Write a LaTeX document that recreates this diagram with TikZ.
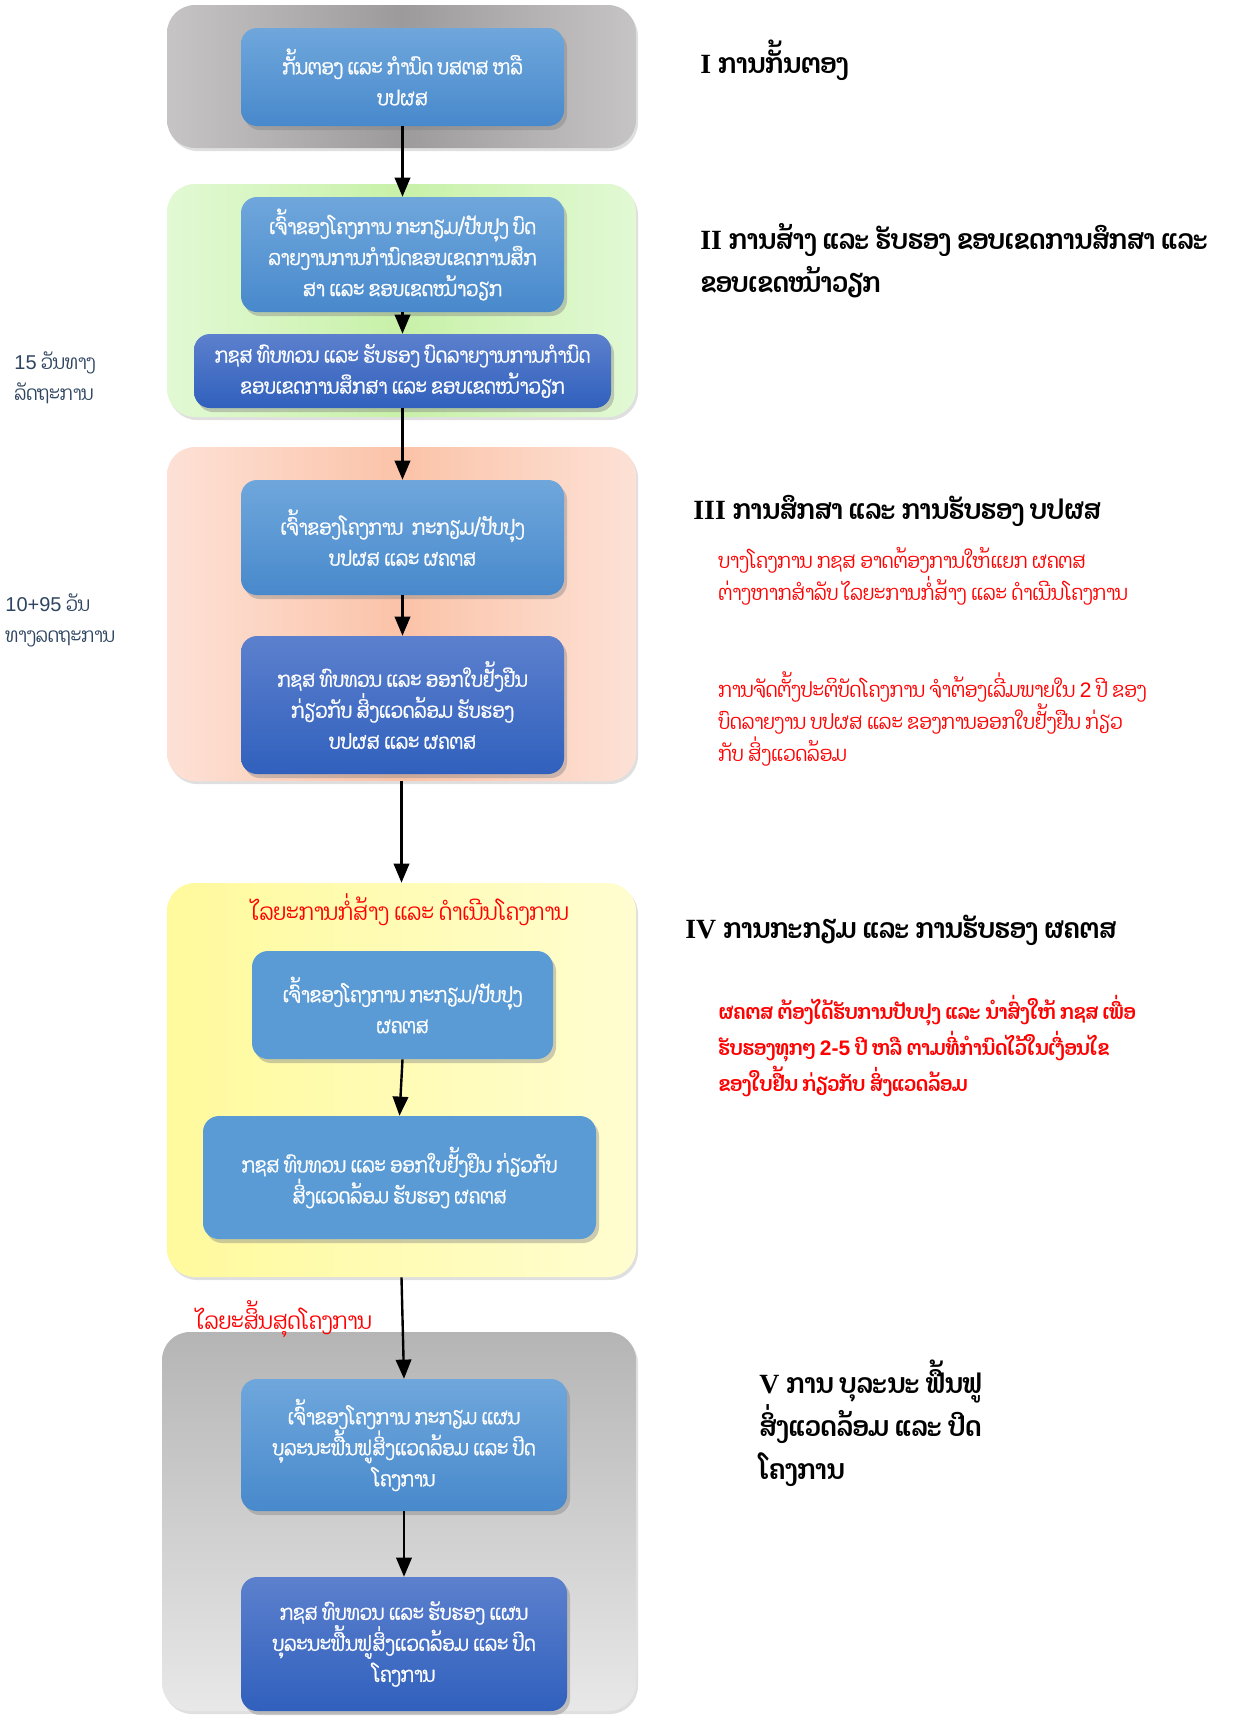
\documentclass[tikz,border=0pt]{standalone}
\usepackage{fontspec}
\setmainfont{Liberation Serif}
\setsansfont{Liberation Sans}
\newfontfamily\laofont[Script=Lao, FakeStretch=0.87]{Dhyana}
\newfontfamily\laobox[Script=Lao, FakeStretch=0.85, FakeBold=1]{Dhyana}
\usepackage{tikz}
\usetikzlibrary{shadows,arrows}

\definecolor{boxtop}{HTML}{6FA7DC}
\definecolor{boxbottom}{HTML}{4889CC}
\definecolor{deeptop}{HTML}{5C80CD}
\definecolor{deepbottom}{HTML}{3060BD}
\definecolor{flatblue}{HTML}{5B9BD5}
\definecolor{greenedge}{HTML}{E2F9D4}
\definecolor{greenmid}{HTML}{C8F1A8}
\definecolor{salmonedge}{HTML}{FDE1D6}
\definecolor{salmonmid}{HTML}{FBC3A8}
\definecolor{yellowleft}{HTML}{FFFA9C}
\definecolor{yellowright}{HTML}{FFFDD0}
\definecolor{grayedge}{HTML}{C6C4C4}
\definecolor{graymid}{HTML}{9C9A9A}
\definecolor{daysblue}{HTML}{2E4460}

\begin{document}
\begin{tikzpicture}[x=0.5pt, y=-0.5pt,
    panel/.style={rectangle, rounded corners=14pt, minimum width=234.5pt,
        drop shadow={shadow xshift=1pt, shadow yshift=-1.5pt, opacity=0.25}},
    stepbox/.style={rectangle, rounded corners=8pt, text=white, align=center,
        font=\fontsize{10.5}{15.5}\selectfont\laobox,
        drop shadow={shadow xshift=1.5pt, shadow yshift=-2pt, opacity=0.4}},
    lightbox/.style={stepbox, top color=boxtop, bottom color=boxbottom},
    deepbox/.style={stepbox, top color=deeptop, bottom color=deepbottom},
    flatbox/.style={stepbox, fill=flatblue},
    title/.style={anchor=west, align=left, inner sep=0pt, font=\fontsize{13.9}{21.5}\selectfont},
    note/.style={anchor=west, align=left, inner sep=0pt, text=red, font=\fontsize{10.5}{16}\selectfont\laofont},
    phase/.style={text=red, font=\fontsize{11.7}{16}\selectfont\laofont},
    days/.style={anchor=west, align=left, inner sep=0pt, text=daysblue, font=\fontsize{10}{15.5}\selectfont\laofont},
    flow/.style={->, >=triangle 45, line width=1.2pt}]
    \useasboundingbox (0,0) rectangle (1239,1720);

    % stage panels
    \node (PanelI) [panel, minimum height=71.5pt, left color=grayedge, right color=grayedge, middle color=graymid] at (401.5,76.5) {};
    \node (PanelII) [panel, minimum height=116.5pt, left color=greenedge, right color=greenedge, middle color=greenmid] at (401.5,300.5) {};
    \node (PanelIII) [panel, minimum height=167pt, left color=salmonedge, right color=salmonedge, middle color=salmonmid] at (401.5,614) {};
    \node (PanelIV) [panel, minimum height=197pt, left color=yellowleft, right color=yellowright] at (401.5,1080) {};
    \node (PanelV) [panel, minimum width=237pt, minimum height=189.5pt, top color=gray!58, bottom color=gray!18] at (399,1521.5) {};

    % steps
    \node (Screening) [lightbox, minimum width=161.5pt, minimum height=49pt] at (402.5,77)
    {
        ກັ້ນຕອງ ແລະ ກຳນົດ ບສຕສ ຫລື \\
        ບປຜສ
    };
    \node (ScopeDraft) [lightbox, minimum width=161.5pt, minimum height=57.5pt] at (402.5,254.5)
    {
        ເຈົ້າຂອງໂຄງການ ກະກຽມ/ປັບປຸງ ບົດ \\
        ລາຍງານການກຳນົດຂອບເຂດການສຶກ \\
        ສາ ແລະ ຂອບເຂດໜ້າວຽກ
    };
    \node (ScopeReview) [deepbox, minimum width=208.5pt, minimum height=37pt] at (402.5,371)
    {
        ກຊສ ທົບທວນ ແລະ ຮັບຮອງ ບົດລາຍງານການກຳນົດ \\
        ຂອບເຂດການສຶກສາ ແລະ ຂອບເຂດໜ້າວຽກ
    };
    \node (EiaDraft) [lightbox, minimum width=161.5pt, minimum height=57.5pt] at (402.5,537.5)
    {
        ເຈົ້າຂອງໂຄງການ~~ກະກຽມ/ປັບປຸງ \\
        ບປຜສ ແລະ ຜຄຕສ
    };
    \node (EiaReview) [deepbox, minimum width=161.5pt, minimum height=69pt] at (402.5,705)
    {
        ກຊສ ທົບທວນ ແລະ ອອກໃບຢັ້ງຢືນ \\
        ກ່ຽວກັບ ສິ່ງແວດລ້ອມ ຮັບຮອງ \\
        ບປຜສ ແລະ ຜຄຕສ
    };
    \node (EmmpDraft) [flatbox, minimum width=150.5pt, minimum height=54pt] at (402.5,1005)
    {
        ເຈົ້າຂອງໂຄງການ ກະກຽມ/ປັບປຸງ \\
        ຜຄຕສ
    };
    \node (EmmpReview) [flatbox, minimum width=196.5pt, minimum height=61.5pt] at (399.5,1177.5)
    {
        ກຊສ ທົບທວນ ແລະ ອອກໃບຢັ້ງຢືນ ກ່ຽວກັບ \\
        ສິ່ງແວດລ້ອມ ຮັບຮອງ ຜຄຕສ
    };
    \node (ClosureDraft) [lightbox, minimum width=163pt, minimum height=66pt] at (404,1445)
    {
        ເຈົ້າຂອງໂຄງການ ກະກຽມ ແຜນ \\
        ບຸລະນະຟື້ນຟູສິ່ງແວດລ້ອມ ແລະ ປິດ \\
        ໂຄງການ
    };
    \node (ClosureReview) [deepbox, minimum width=163pt, minimum height=67pt] at (404,1644)
    {
        ກຊສ ທົບທວນ ແລະ ຮັບຮອງ ແຜນ \\
        ບຸລະນະຟື້ນຟູສິ່ງແວດລ້ອມ ແລະ ປິດ \\
        ໂຄງການ
    };

    % phase labels
    \node (PhaseBuild) [phase] at (410,910) {ໄລຍະການກໍ່ສ້າງ ແລະ ດຳເນີນໂຄງການ};
    \node (PhaseEnd) [phase] at (284,1319) {ໄລຍະສິ້ນສຸດໂຄງການ};

    % stage titles
    \node (TitleI) [title] at (700,60) {\textbf{I} {\laofont\bfseries ການກັ້ນຕອງ}};
    \node (TitleII) [title] at (700,260.5)
    {
        \textbf{II} {\laofont\bfseries ການສ້າງ ແລະ ຮັບຮອງ ຂອບເຂດການສຶກສາ ແລະ} \\
        {\laofont\bfseries ຂອບເຂດໜ້າວຽກ}
    };
    \node (TitleIII) [title] at (693,511) {\textbf{III} {\laofont\bfseries ການສຶກສາ ແລະ ການຮັບຮອງ ບປຜສ}};
    \node (TitleIV) [title] at (685,930) {\textbf{IV} {\laofont\bfseries ການກະກຽມ ແລະ ການຮັບຮອງ ຜຄຕສ}};
    \node (TitleV) [title] at (759,1423)
    {
        \textbf{V} {\laofont\bfseries ການ ບຸລະນະ ຟື້ນຟູ} \\
        {\laofont\bfseries ສິ່ງແວດລ້ອມ ແລະ ປິດ} \\
        {\laofont\bfseries ໂຄງການ}
    };

    % notes
    \node (NoteSplit) [note] at (718,576)
    {
        ບາງໂຄງການ ກຊສ ອາດຕ້ອງການໃຫ້ແຍກ ຜຄຕສ \\
        ຕ່າງຫາກສຳລັບ ໄລຍະການກໍ່ສ້າງ ແລະ ດຳເນີນໂຄງການ
    };
    \node (NoteStart) [note] at (718,719)
    {
        ການຈັດຕັ້ງປະຕິບັດໂຄງການ ຈຳຕ້ອງເລີ່ມພາຍໃນ \textsf{2} ປີ ຂອງ \\
        ບົດລາຍງານ ບປຜສ ແລະ ຂອງການອອກໃບຢັ້ງຢືນ ກ່ຽວ \\
        ກັບ ສິ່ງແວດລ້ອມ
    };
    \node (NoteUpdate) [note, font=\fontsize{10.5}{18}\selectfont\laofont\bfseries] at (718,1046)
    {
        ຜຄຕສ ຕ້ອງໄດ້ຮັບການປັບປຸງ ແລະ ນຳສົ່ງໃຫ້ ກຊສ ເພື່ອ \\
        ຮັບຮອງທຸກໆ \textsf{2-5} ປີ ຫລື ຕາມທີ່ກຳນົດໄວ້ໃນເງື່ອນໄຂ \\
        ຂອງໃບຢື້ນ ກ່ຽວກັບ ສິ່ງແວດລ້ອມ
    };

    % review periods
    \node (DaysScope) [days] at (14,378) {\textsf{15} ວັນທາງ \\ ລັດຖະການ};
    \node (DaysEia) [days] at (5,620) {\textsf{10+95} ວັນ \\ ທາງລດຖະການ};

    % flow
    \draw[flow] (Screening.south) -- (ScopeDraft.north);
    \draw[flow] (ScopeDraft.south) -- (ScopeReview.north);
    \draw[flow] (ScopeReview.south) -- (EiaDraft.north);
    \draw[flow] (EiaDraft.south) -- (EiaReview.north);
    \draw[flow] (PanelIII.south) -- (PanelIV.north);
    \draw[flow] (EmmpDraft.south) -- (EmmpReview.north);
    \draw[flow] (PanelIV.south) -- (ClosureDraft.north);
    \draw[flow] (ClosureDraft.south) -- (ClosureReview.north);
\end{tikzpicture}
\end{document}
